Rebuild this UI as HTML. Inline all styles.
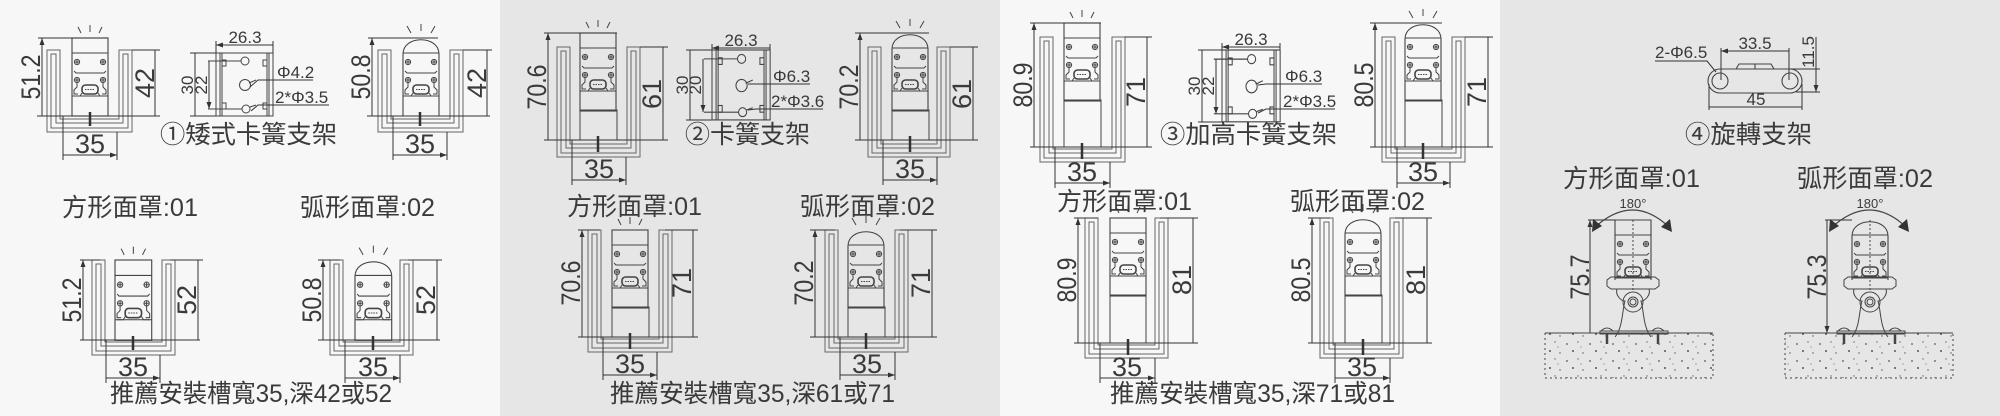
<!DOCTYPE html>
<html><head><meta charset="utf-8"><style>
html,body{margin:0;padding:0;width:2000px;height:416px;overflow:hidden;background:#f7f7f7}
svg{display:block}
text{font-family:"Liberation Sans","Noto Sans CJK TC",sans-serif;fill:#3a3a3a}
</style></head><body>
<svg width="2000" height="416" viewBox="0 0 2000 416" xmlns="http://www.w3.org/2000/svg">
<defs>
<marker id="a" markerWidth="7" markerHeight="6" refX="7" refY="3" orient="auto-start-reverse" markerUnits="userSpaceOnUse"><path d="M0,0.5 L7,3 L0,5.5z" fill="#333"/></marker>
<pattern id="dots" width="23" height="17" patternUnits="userSpaceOnUse">
<circle cx="3" cy="4" r="0.9" fill="#555"/><circle cx="14" cy="2" r="0.7" fill="#666"/><circle cx="9" cy="11" r="1" fill="#555"/><circle cx="19" cy="13" r="0.7" fill="#555"/><circle cx="17" cy="7" r="0.6" fill="#777"/>
</pattern>
<g id="inner" fill="none" stroke="#444" stroke-width="1">
<line x1="0" y1="15" x2="36" y2="15"/>
<circle cx="5" cy="24" r="2.6"/><circle cx="31" cy="24" r="2.6"/>
<path d="M3,24h4M5,22v4M29,24h4M31,22v4"/>
<path d="M2,33 L4,35 H32 L34,33"/>
<circle cx="5" cy="42" r="2.6"/><circle cx="31" cy="42" r="2.6"/>
<path d="M3,42h4M5,40v4M29,42h4M31,40v4"/>
<path d="M5,45 v4 l-3,3 v4 h4 M31,45 v4 l3,3 v4 h-4"/>
<rect x="10" y="47" width="16" height="9" rx="3.5" stroke-width="1.6"/>
<path d="M13,51.5 h10" stroke-dasharray="1.5 1"/>
<path d="M0,58 H36"/>
<path d="M2,58 L8,58 L10,55 M34,58 L28,58 L26,55"/>
</g>
<g id="sq">
<rect x="0" y="0" width="36" height="78" fill="none" stroke="#444" stroke-width="1.1"/>
<use href="#inner"/>
<path d="M6,-11 L9,-5 M18,-13 V-6 M30,-11 L27,-5" stroke="#444" stroke-width="1"/>
</g>
<g id="arc">
<path d="M0,78 V16 C0,-3 36,-3 36,16 V78 Z" fill="none" stroke="#444" stroke-width="1.1"/>
<use href="#inner"/>
<path d="M4,-12 L8,-5 M18,-14 V-7 M32,-12 L28,-5" stroke="#444" stroke-width="1"/>
</g>
<g id="br" fill="none" stroke="#444" stroke-width="1">
<rect x="0" y="0" width="57" height="63"/>
<path d="M4,0V63M6,0V63M51,0V63M53,0V63"/>
<rect x="6" y="7" width="4" height="6"/><rect x="6" y="50" width="4" height="6"/>
<rect x="47" y="7" width="4" height="6"/><rect x="47" y="50" width="4" height="6"/>
<circle cx="29" cy="8" r="4"/><circle cx="29" cy="32" r="5.5"/><circle cx="30" cy="56" r="4"/>
<path d="M25,8 H-8 M26,56 H-8"/>
<path d="M33,30 L40,27 M34,54 L40,52"/>
</g>
<g id="stand" fill="none" stroke="#444" stroke-width="1">
<path d="M-8,66 v-6 l4,-3 h44 l4,3 v6 l-4,3 h-44 z"/>
<path d="M2,69 c-2,6 4,12 8,12 c-3,10 -2,26 -10,36 M34,69 c2,6 -4,12 -8,12 c3,10 2,26 10,36"/>
<circle cx="18" cy="82" r="10"/><circle cx="18" cy="82" r="5"/><circle cx="18" cy="82" r="3"/>
<rect x="-15" y="111" width="68" height="3"/>
<path d="M-14,111 q6,-6 12,0 M37,111 q6,-6 12,0"/>
<path d="M-8,114 v10 M43,114 v10" stroke-width="2.5"/>
<path d="M18,0 V70" stroke-dasharray="2 2"/>
</g>
<g id="sqr">
<path d="M0,0 H36 V60 M0,0 V60" fill="none" stroke="#444" stroke-width="1.1"/>
<use href="#inner"/><use href="#stand"/>
</g>
<g id="arcr">
<path d="M0,60 V16 C0,-3 36,-3 36,16 V60" fill="none" stroke="#444" stroke-width="1.1"/>
<use href="#inner"/><use href="#stand"/>
</g>
</defs>

<rect x="500" y="0" width="500" height="416" fill="#e6e6e6"/>
<rect x="1500" y="0" width="500" height="416" fill="#e6e6e6"/>

<g fill="none" stroke="#666" stroke-width="1">
<!-- channels: outer + inner -->
<path d="M47,50V132H132V50H119V119H60V50Z M51,54V128H128V54H123V123H56V54Z"/>
<path d="M378,50V132H463V50H450V119H391V50Z M382,54V128H459V54H454V123H387V54Z"/>
<path d="M92,260V355H175V260H162V342H105V260Z M96,264V351H171V264H166V346H101V264Z"/>
<path d="M330,260V355H413V260H400V342H343V260Z M334,264V351H409V264H404V346H339V264Z"/>
<path d="M557,47V157H640V47H627V144H570V47Z M561,51V153H636V51H631V148H566V51Z"/>
<path d="M868,47V157H950V47H937V144H881V47Z M872,51V153H946V51H941V148H877V51Z"/>
<path d="M588,230V352H672V230H659V339H601V230Z M592,234V348H668V234H663V343H597V234Z"/>
<path d="M825,230V352H908V230H895V339H838V230Z M829,234V348H904V234H899V343H834V234Z"/>
<path d="M1040,37V162H1125V37H1112V149H1053V37Z M1044,41V158H1121V41H1116V153H1049V41Z"/>
<path d="M1382,37V162H1465V37H1452V149H1395V37Z M1386,41V158H1461V41H1456V153H1391V41Z"/>
<path d="M1085,218V358H1168V218H1155V345H1098V218Z M1089,222V354H1164V222H1159V349H1094V222Z"/>
<path d="M1320,218V358H1403V218H1390V345H1333V218Z M1324,222V354H1399V222H1394V349H1329V222Z"/>
</g>

<!-- fixtures -->
<use href="#sq" x="72" y="38"/>
<use href="#arc" x="403" y="38"/>
<g transform="translate(115,260) scale(1.02,1.03)"><use href="#sq"/></g>
<g transform="translate(355,260) scale(1.02,1.03)"><use href="#arc"/></g>
<use href="#sq" x="580" y="33"/><rect x="580" y="110" width="37" height="30" fill="none" stroke="#444"/>
<use href="#arc" x="892" y="33"/><rect x="892" y="110" width="37" height="30" fill="none" stroke="#444"/>
<use href="#sq" x="612" y="230"/><rect x="612" y="307" width="37" height="30" fill="none" stroke="#444"/>
<use href="#arc" x="848" y="230"/><rect x="848" y="307" width="37" height="30" fill="none" stroke="#444"/>
<use href="#sq" x="1064" y="23"/><rect x="1064" y="100" width="37" height="47" fill="none" stroke="#444"/>
<use href="#arc" x="1405" y="23"/><rect x="1405" y="100" width="37" height="47" fill="none" stroke="#444"/>
<use href="#sq" x="1110" y="218"/><rect x="1110" y="295" width="36" height="48" fill="none" stroke="#444"/>
<use href="#arc" x="1345" y="218"/><rect x="1345" y="295" width="37" height="48" fill="none" stroke="#444"/>
<!-- screws bottom -->
<g stroke="#333" stroke-width="2.5">
<path d="M90,112v14M420,112v14M133,336v14M373,336v14M598,136v16M910,136v16M630,333v16M866,333v16M1082,143v16M1423,143v16M1128,339v16M1363,339v16"/>
</g>

<!-- dimension lines -->
<g stroke="#333" stroke-width="1" fill="none">
<g marker-start="url(#a)" marker-end="url(#a)">
<path d="M42,38V116M155,50V116M63,155H117"/>
<path d="M372,38V116M487,50V116M393,155H447"/>
<path d="M83,260V340M198,260V340M106,378H160"/>
<path d="M323,260V340M437,260V340M345,378H400"/>
<path d="M548,33V140M663,47V140M572,180H626"/>
<path d="M860,33V140M973,47V140M883,180H937"/>
<path d="M582,230V337M693,230V337M603,375H657"/>
<path d="M815,230V337M932,230V337M840,375H895"/>
<path d="M1034,23V147M1147,37V147M1055,183H1110"/>
<path d="M1375,23V147M1488,37V147M1397,183H1450"/>
<path d="M1078,218V343M1193,218V343M1100,378H1155"/>
<path d="M1312,218V343M1427,218V343M1335,378H1390"/>
<path d="M216,45H273M195,53V116M209,61V109"/>
<path d="M712,48H770M690,50V120M703,59V112"/>
<path d="M1222,47H1280M1202,50V122M1216,59V114"/>
<path d="M1721,51H1789M1709,107H1802M1816,37V92"/>
<path d="M1590,220V333M1827,220V333"/>
</g>
<!-- extension lines -->
<path d="M38,38H108M132,50H160M37,116H160M63,116V160M117,132V160"/>
<path d="M368,38H438M463,50H492M367,116H490M393,116V160M447,132V160"/>
<path d="M80,260H100M170,260H203M80,340H200M106,340V383M160,355V383"/>
<path d="M318,260H340M408,260H442M318,340H440M345,340V383M400,355V383"/>
<path d="M544,33H617M640,47H668M544,140H668M572,140V185M626,157V185"/>
<path d="M855,33H929M950,47H978M855,140H978M883,140V185M937,157V185"/>
<path d="M578,230H600M665,230H698M578,337H698M603,337V380M657,352V380"/>
<path d="M810,230H835M900,230H937M810,337H937M840,337V380M895,352V380"/>
<path d="M1030,23H1101M1125,37H1152M1030,147H1152M1055,147V188M1110,162V188"/>
<path d="M1370,23H1442M1465,37H1493M1370,147H1493M1397,147V188M1450,162V188"/>
<path d="M1074,218H1098M1160,218H1198M1074,343H1198M1100,343V383M1155,358V383"/>
<path d="M1308,218H1330M1395,218H1432M1308,343H1432M1335,343V383M1390,358V383"/>
<path d="M216,41V53M273,41V53M190,53H216M190,116H216"/>
<path d="M712,44V50M770,44V50M686,50H712M686,120H712"/>
<path d="M1222,43V50M1280,43V50M1198,50H1222M1198,122H1222"/>
<path d="M1721,48V80M1789,48V80M1709,84V110M1802,84V110M1773,69H1820M1796,92H1820"/>
<path d="M1588,220H1615M1825,220H1852"/>
<!-- leaders -->
<path d="M277,80H313M275,105H329"/>
<path d="M773,84H810M773,109H823"/>
<path d="M1285,84H1322M1283,109H1335"/>
<path d="M1655,61H1707L1716,72"/>
</g>

<!-- brackets -->
<use href="#br" x="216" y="53"/>
<g transform="translate(712,50) scale(1.02,1.11)"><use href="#br"/></g>
<g transform="translate(1222,50) scale(1.02,1.14)"><use href="#br"/></g>
<g stroke="#333" stroke-width="1" fill="none">
<path d="M250,87L258,80H277M251,111L258,105H275"/>
<path d="M748,84L755,84H773M748,110L756,109H773"/>
<path d="M1258,85L1266,84H1285M1258,113L1266,109H1283"/>
</g>

<!-- rotating bracket -->
<g fill="none" stroke="#444" stroke-width="1.1">
<rect x="1708" y="69" width="94" height="24" rx="12"/>
<circle cx="1720" cy="81" r="8"/><circle cx="1790" cy="81" r="8"/>
<path d="M1736,69 L1739,64 H1771 L1774,69 M1755,64V69"/>
</g>

<!-- panel 4 fixtures -->
<use href="#sqr" x="1615" y="220"/>
<use href="#arcr" x="1852" y="220"/>
<rect x="1545" y="333" width="168" height="45" fill="url(#dots)"/>
<rect x="1785" y="333" width="168" height="45" fill="url(#dots)"/>
<g stroke="#444" fill="none" stroke-width="1">
<path d="M1545,333H1713M1785,333H1953"/>
<path d="M1545,333V378H1713V333M1785,333V378H1953V333" stroke-dasharray="2 3"/>
<path d="M1594,228 Q1633,192 1670,228" stroke-width="1.3"/>
<path d="M1831,228 Q1870,192 1907,228" stroke-width="1.3"/>
</g>
<g fill="#333">
<path d="M1592,232 L1593,219 L1602,226Z M1672,232 L1661,227 L1670,219Z"/>
<path d="M1829,232 L1830,219 L1839,226Z M1909,232 L1898,227 L1907,219Z"/>
</g>

<!-- rotated dimension labels -->
<g font-size="27">
<text transform="translate(40,77) rotate(-90)" text-anchor="middle" textLength="45" lengthAdjust="spacingAndGlyphs">51.2</text>
<text transform="translate(154,83) rotate(-90)" text-anchor="middle">42</text>
<text transform="translate(370,77) rotate(-90)" text-anchor="middle" textLength="45" lengthAdjust="spacingAndGlyphs">50.8</text>
<text transform="translate(486,83) rotate(-90)" text-anchor="middle">42</text>
<text transform="translate(81,300) rotate(-90)" text-anchor="middle" textLength="45" lengthAdjust="spacingAndGlyphs">51.2</text>
<text transform="translate(196,300) rotate(-90)" text-anchor="middle">52</text>
<text transform="translate(321,300) rotate(-90)" text-anchor="middle" textLength="45" lengthAdjust="spacingAndGlyphs">50.8</text>
<text transform="translate(435,300) rotate(-90)" text-anchor="middle">52</text>
<text transform="translate(546,87) rotate(-90)" text-anchor="middle" textLength="45" lengthAdjust="spacingAndGlyphs">70.6</text>
<text transform="translate(661,94) rotate(-90)" text-anchor="middle">61</text>
<text transform="translate(858,87) rotate(-90)" text-anchor="middle" textLength="45" lengthAdjust="spacingAndGlyphs">70.2</text>
<text transform="translate(971,94) rotate(-90)" text-anchor="middle">61</text>
<text transform="translate(580,283) rotate(-90)" text-anchor="middle" textLength="45" lengthAdjust="spacingAndGlyphs">70.6</text>
<text transform="translate(691,283) rotate(-90)" text-anchor="middle">71</text>
<text transform="translate(813,283) rotate(-90)" text-anchor="middle" textLength="45" lengthAdjust="spacingAndGlyphs">70.2</text>
<text transform="translate(930,283) rotate(-90)" text-anchor="middle">71</text>
<text transform="translate(1032,85) rotate(-90)" text-anchor="middle" textLength="45" lengthAdjust="spacingAndGlyphs">80.9</text>
<text transform="translate(1145,92) rotate(-90)" text-anchor="middle">71</text>
<text transform="translate(1373,85) rotate(-90)" text-anchor="middle" textLength="45" lengthAdjust="spacingAndGlyphs">80.5</text>
<text transform="translate(1486,92) rotate(-90)" text-anchor="middle">71</text>
<text transform="translate(1076,280) rotate(-90)" text-anchor="middle" textLength="45" lengthAdjust="spacingAndGlyphs">80.9</text>
<text transform="translate(1191,280) rotate(-90)" text-anchor="middle">81</text>
<text transform="translate(1310,280) rotate(-90)" text-anchor="middle" textLength="45" lengthAdjust="spacingAndGlyphs">80.5</text>
<text transform="translate(1425,280) rotate(-90)" text-anchor="middle">81</text>
<text transform="translate(1589,277) rotate(-90)" text-anchor="middle" textLength="45" lengthAdjust="spacingAndGlyphs">75.7</text>
<text transform="translate(1826,277) rotate(-90)" text-anchor="middle" textLength="45" lengthAdjust="spacingAndGlyphs">75.3</text>
</g>
<!-- horizontal 35 labels -->
<g font-size="27" text-anchor="middle">
<text x="90" y="153">35</text><text x="420" y="153">35</text>
<text x="133" y="376">35</text><text x="373" y="376">35</text>
<text x="599" y="178">35</text><text x="910" y="178">35</text>
<text x="630" y="373">35</text><text x="867" y="373">35</text>
<text x="1082" y="181">35</text><text x="1423" y="181">35</text>
<text x="1127" y="376">35</text><text x="1362" y="376">35</text>
</g>
<!-- bracket labels -->
<g font-size="17">
<text x="245" y="43" text-anchor="middle">26.3</text>
<text x="741" y="46" text-anchor="middle">26.3</text>
<text x="1251" y="45" text-anchor="middle">26.3</text>
<text x="277" y="78">Φ4.2</text><text x="275" y="103">2*Φ3.5</text>
<text x="773" y="82">Φ6.3</text><text x="771" y="107">2*Φ3.6</text>
<text x="1285" y="82">Φ6.3</text><text x="1283" y="107">2*Φ3.5</text>
<text transform="translate(193,85) rotate(-90)" text-anchor="middle">30</text>
<text transform="translate(207,85) rotate(-90)" text-anchor="middle">22</text>
<text transform="translate(688,85) rotate(-90)" text-anchor="middle">30</text>
<text transform="translate(701,85) rotate(-90)" text-anchor="middle">20</text>
<text transform="translate(1200,86) rotate(-90)" text-anchor="middle">30</text>
<text transform="translate(1214,86) rotate(-90)" text-anchor="middle">22</text>
<text x="1755" y="49" text-anchor="middle">33.5</text>
<text x="1756" y="105" text-anchor="middle">45</text>
<text x="1655" y="58">2-Φ6.5</text>
<text transform="translate(1814,52) rotate(-90)" text-anchor="middle">11.5</text>
</g>
<g font-size="13" text-anchor="middle"><text x="1633" y="208">180°</text><text x="1870" y="208">180°</text></g>

<!-- captions -->
<g font-size="25">
<text x="160" y="143" textLength="177" lengthAdjust="spacingAndGlyphs">①矮式卡簧支架</text>
<text x="685" y="143" textLength="125" lengthAdjust="spacingAndGlyphs">②卡簧支架</text>
<text x="1160" y="143" textLength="177" lengthAdjust="spacingAndGlyphs">③加高卡簧支架</text>
<text x="1685" y="143" textLength="127" lengthAdjust="spacingAndGlyphs">④旋轉支架</text>
<text x="62" y="216" textLength="136" lengthAdjust="spacingAndGlyphs">方形面罩:01</text>
<text x="300" y="216" textLength="135" lengthAdjust="spacingAndGlyphs">弧形面罩:02</text>
<text x="567" y="215" textLength="135" lengthAdjust="spacingAndGlyphs">方形面罩:01</text>
<text x="800" y="215" textLength="135" lengthAdjust="spacingAndGlyphs">弧形面罩:02</text>
<text x="1057" y="210" textLength="135" lengthAdjust="spacingAndGlyphs">方形面罩:01</text>
<text x="1290" y="210" textLength="135" lengthAdjust="spacingAndGlyphs">弧形面罩:02</text>
<text x="1563" y="187" textLength="137" lengthAdjust="spacingAndGlyphs">方形面罩:01</text>
<text x="1797" y="187" textLength="136" lengthAdjust="spacingAndGlyphs">弧形面罩:02</text>
<text x="110" y="402" textLength="282" lengthAdjust="spacingAndGlyphs">推薦安裝槽寬35,深42或52</text>
<text x="610" y="402" textLength="285" lengthAdjust="spacingAndGlyphs">推薦安裝槽寬35,深61或71</text>
<text x="1110" y="402" textLength="285" lengthAdjust="spacingAndGlyphs">推薦安裝槽寬35,深71或81</text>
</g>
</svg>
</body></html>
